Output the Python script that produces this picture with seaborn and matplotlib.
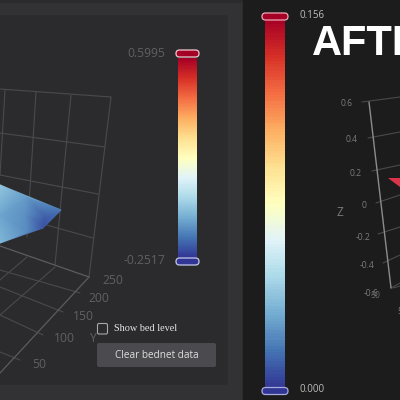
import numpy as np
import matplotlib
matplotlib.use("Agg")
import matplotlib.pyplot as plt
from matplotlib.colors import LinearSegmentedColormap
from matplotlib.patches import Rectangle, FancyBboxPatch
import matplotlib.tri as mtri
import seaborn as sns

# colour scale and ranges
scale_colors = ["#313695", "#4575b4", "#74add1", "#abd9e9", "#e0f3f8", "#ffffbf",
                "#fee090", "#fdae61", "#f46d43", "#d73027", "#a50026"]
left_min, left_max = -0.2517, 0.5995
right_min, right_max = 0.000, 0.156
left_labels = ["0.5995", "-0.2517"]
right_labels = ["0.156", "0.000"]

# left surface (screen position, height)
surf_x = [0, 27, 61, 43, 27, 0, 0, 25, 45]
surf_y = [185, 198, 210, 228, 232, 243, 215, 215, 218]
surf_z = [-0.03, -0.11, -0.16, -0.215, -0.13, -0.06, -0.09, -0.125, -0.20]

# left axis tick labels
y_ticks = ["250", "200", "150", "100", "50"]
y_tick_x = [113, 99, 83, 64, 39]
y_tick_y = [281, 298, 317, 339, 365]

# right axis tick labels
z_ticks = ["0.6", "0.4", "0.2", "0", "-0.2", "-0.4", "-0.6"]
z_tick_x = [347, 352, 356, 364, 363, 367, 371]
z_tick_y = [103, 139, 174, 206, 237, 266, 294]

# left wire grid segments (x0, y0, x1, y1)
left_grid = [
    (0, 89, 111, 97), (0, 133, 105, 147), (0, 175, 98, 194), (0, 212, 93, 238),
    (5, 90, 0, 175), (36, 92, 27, 237), (71, 95, 55, 265), (111, 97, 89, 277),
    (0, 270, 80, 293), (0, 287, 63, 312), (0, 315, 43, 335), (0, 352, 20, 360),
    (27, 257, 0, 280), (55, 267, 0, 315),
]
left_edges = [(0, 246, 89, 277), (89, 277, 0, 373)]

# right wire grid segments
right_grid = [
    (362, 102, 400, 97), (368, 138, 400, 132), (372, 171, 400, 165),
    (376, 203, 400, 195), (378, 234, 400, 227), (383, 263, 400, 255),
    (391, 288, 400, 283), (393, 288, 400, 286),
]
right_axis = (369, 102, 391, 288)
tri_x = [388, 400, 400]
tri_y = [178, 178, 187]

cmap = LinearSegmentedColormap.from_list("scale", scale_colors)

sns.set_theme(style="white")
fig = plt.figure(figsize=(4, 4), dpi=100, facecolor="#323235")
ax = fig.add_axes([0, 0, 1, 1])
ax.set_xlim(0, 400)
ax.set_ylim(400, 0)
ax.axis("off")

# panels
ax.add_patch(Rectangle((0, 0), 400, 2, color="#2b2b2d", zorder=0))
ax.add_patch(FancyBboxPatch((-10, 15), 238, 370, boxstyle="round,pad=0,rounding_size=3",
                            fc="#2b2b2e", ec="none", zorder=1))
ax.add_patch(Rectangle((243, 0), 157, 400, color="#1c1c1c", zorder=1))

# grids
for x0, y0, x1, y1 in left_grid:
    ax.plot([x0, x1], [y0, y1], color="#4a4a4d", lw=0.8, zorder=2)
for x0, y0, x1, y1 in left_edges:
    ax.plot([x0, x1], [y0, y1], color="#5c5c5f", lw=0.9, zorder=2)
for x0, y0, x1, y1 in right_grid:
    ax.plot([x0, x1], [y0, y1], color="#4a4a4a", lw=0.8, zorder=2)
ax.plot(right_axis[0::2], right_axis[1::2], color="#8c8c8c", lw=1.0, zorder=3)

# surfaces
tri = mtri.Triangulation(surf_x, surf_y)
ax.tripcolor(tri, surf_z, cmap=cmap, vmin=left_min, vmax=left_max, shading="gouraud", zorder=4)
ax.fill(tri_x, tri_y, color="#d9344a", lw=0, zorder=4)


def bar(x0, x1, y0, y1, lo, hi, n):
    w, h = 400, 400
    bax = fig.add_axes([x0 / w, 1 - y1 / h, (x1 - x0) / w, (y1 - y0) / h], zorder=3)
    levels = np.linspace(hi, lo, n).reshape(-1, 1)
    sns.heatmap(levels, ax=bax, cmap=cmap, vmin=lo, vmax=hi, cbar=False,
                xticklabels=False, yticklabels=False, rasterized=True)
    bax.axis("off")


bar(178, 197, 58, 258, left_min, left_max, 200)
bar(264.5, 285, 18, 389, right_min, right_max, 120)

# handles drawn on an overlay axes so they sit over the bars
ov = fig.add_axes([0, 0, 1, 1], zorder=5)
ov.set_xlim(0, 400)
ov.set_ylim(400, 0)
ov.axis("off")
ov.patch.set_alpha(0)
for x0, x1, y0, y1, fc, ec in [
    (176, 199, 50, 57, "#a50026", "#f0c8cc"),
    (176, 199, 258, 265, "#313695", "#c5c8e8"),
    (262, 288, 13, 20, "#a50026", "#f0a8b4"),
    (262, 288, 387.5, 394.5, "#313695", "#a8acdc"),
]:
    ov.add_patch(FancyBboxPatch((x0 + 3.5, y0 + 3.5), x1 - x0 - 7, y1 - y0 - 7,
                                boxstyle="round,pad=3.5,rounding_size=3.5",
                                fc=fc, ec=ec, lw=0.9))

muted = "#606063"
sans = "Open Sans"
ax.text(165, 53.5, left_labels[0], color=muted, fontsize=8.7, ha="right", va="center", family=sans, zorder=6)
ax.text(165, 260.5, left_labels[1], color=muted, fontsize=8.7, ha="right", va="center", family=sans, zorder=6)
for s, x, y in zip(y_ticks, y_tick_x, y_tick_y):
    ax.text(x, y, s, color=muted, fontsize=8.7, ha="center", va="center", family=sans, zorder=6)
ax.text(92, 339, "Y", color=muted, fontsize=8.7, ha="center", va="center", family=sans, zorder=6)

for s, x, y in zip(z_ticks, z_tick_x, z_tick_y):
    ax.text(x, y, s, color="#7a7a7a", fontsize=6.2, ha="center", va="center", family=sans, zorder=6)
ax.text(375, 295, "50", color="#6a6a6a", fontsize=6.2, ha="center", va="center", family=sans, zorder=6)
ax.text(397, 312, "50", color="#7a7a7a", fontsize=6.2, ha="left", va="center", family=sans, zorder=6)
ax.text(340, 213, "Z", color="#7a7a7a", fontsize=8.5, ha="center", va="center", family=sans, zorder=6)

ax.text(299, 16, right_labels[0], color="#bdbdbd", fontsize=7, ha="left", va="center", family=sans, zorder=6)
ax.text(299, 390, right_labels[1], color="#bdbdbd", fontsize=7, ha="left", va="center", family=sans, zorder=6)

ax.text(312, 55, "AFTER", color="white", fontsize=30, fontweight="bold", ha="left", va="baseline",
        family="Liberation Sans", zorder=6, clip_on=True)

# controls
ax.add_patch(FancyBboxPatch((97.5, 323.5), 10, 10.5, boxstyle="round,pad=0,rounding_size=1.5",
                            fc="#2b2b2e", ec="#a8a8a8", lw=0.8, zorder=6))
ax.text(113.5, 328.5, "Show bed level", color="#e4e4e4", fontsize=7.4, ha="left", va="center",
        family="Liberation Serif", zorder=6)
ax.add_patch(FancyBboxPatch((97, 343), 119, 24, boxstyle="round,pad=0,rounding_size=2",
                            fc="#4b4a4f", ec="none", zorder=5))
ax.text(156.5, 355.5, "Clear bednet data", color="#dedede", fontsize=7.2, ha="center", va="center",
        family=sans, zorder=6)

fig.savefig("out.png", dpi=100, facecolor=fig.get_facecolor())
